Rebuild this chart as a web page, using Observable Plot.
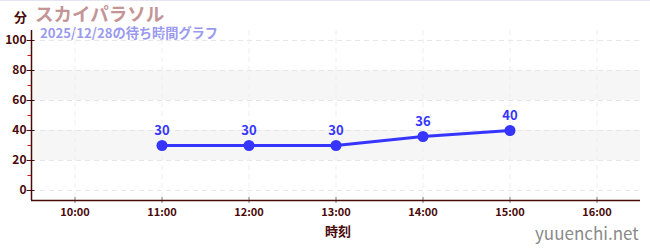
<!DOCTYPE html>
<html><head><meta charset="utf-8">
<script src="https://cdn.jsdelivr.net/npm/d3@7"></script>
<script src="https://cdn.jsdelivr.net/npm/@observablehq/plot@0.6"></script>
<style>
body{margin:0;background:#fff;font-family:"Noto Sans CJK JP","Noto Sans",sans-serif;}
#wrap{position:relative;width:650px;height:250px;overflow:hidden;}
#wrap svg{position:absolute;left:0;top:0;}
#topline{position:absolute;left:0;top:0;width:650px;height:1px;background:#e4e4f4;}
.t{position:absolute;white-space:nowrap;font-weight:bold;line-height:1;}
</style></head><body>
<div id="wrap">
<div id="topline"></div>
<div class="t" style="left:14px;top:10px;font-size:13px;color:#4a0a0a;">分</div>
<div class="t" style="left:35px;top:4px;font-size:18.5px;color:#c49595;">スカイパラソル</div>
<div class="t" style="left:40px;top:26px;font-size:13.2px;color:#9a9af0;">2025/12/28の待ち時間グラフ</div>
<div class="t" style="left:325px;top:224px;font-size:13px;color:#4a0a0a;">時刻</div>
<div class="t" style="left:535px;top:224px;font-size:17px;font-weight:normal;color:#8a8a8a;">yuuenchi.net</div>
</div>
<script>
const hours = [11, 12, 13, 14, 15];
const waits = [30, 30, 30, 36, 40];
const xTicks = [10, 11, 12, 13, 14, 15, 16];
const xTickLabels = ["10:00", "11:00", "12:00", "13:00", "14:00", "15:00", "16:00"];
const yTicks = [0, 20, 40, 60, 80, 100];
const yMinorTicks = [10, 30, 50, 70, 90];
const bands = [[20, 40], [60, 80]];

const data = hours.map((h, i) => ({h, w: waits[i]}));
const axisColor = "#4a0a0a";
const blue = "#3535ff";
const X0 = 9.5, X1 = 16.5, Y0 = -6.67, Y1 = 106.67;

const chart = Plot.plot({
  width: 650, height: 250,
  marginLeft: 31, marginRight: 10, marginTop: 30, marginBottom: 50,
  style: {fontFamily: '"Noto Sans CJK JP","Noto Sans",sans-serif', background: "transparent"},
  x: {type: "linear", domain: [X0, X1]},
  y: {type: "linear", domain: [Y0, Y1]},
  marks: [
    Plot.rect(bands, {x1: () => X0, x2: () => X1, y1: d => d[0], y2: d => d[1], fill: "#f6f6f6"}),
    Plot.ruleY(yTicks, {stroke: "#e6e6e6", strokeDasharray: "5,4"}),
    Plot.ruleX(xTicks, {stroke: "#eeeeee", strokeDasharray: "5,4"}),
    Plot.axisX(xTicks, {tickSize: 0, tickPadding: 8, label: null, tickFormat: d => xTickLabels[xTicks.indexOf(d)], fill: axisColor, fontSize: 11, fontWeight: "bold"}),
    Plot.axisY(yTicks, {tickSize: 0, tickPadding: 5, label: null, fill: axisColor, fontSize: 12, fontWeight: "bold"}),
    Plot.ruleY(yMinorTicks, {x1: () => X0 - 0.04, x2: () => X0, stroke: "#e01010"}),
    Plot.ruleY(yTicks, {x1: () => X0 - 0.05, x2: () => X0 + 0.04, stroke: axisColor}),
    Plot.ruleX(xTicks, {y1: () => Y0 - 2, y2: () => Y0 + 2, stroke: "#777"}),
    Plot.ruleY([Y0], {stroke: axisColor, strokeWidth: 1.5}),
    Plot.ruleX([X0], {stroke: axisColor, strokeWidth: 1.5}),
    Plot.line(data, {x: "h", y: "w", stroke: blue, strokeWidth: 3}),
    Plot.dot(data, {x: "h", y: "w", r: 5.5, fill: blue}),
    Plot.text(data, {x: "h", y: "w", text: d => String(d.w), dy: -15, fill: blue, fontSize: 13, fontWeight: "bold"})
  ]
});
document.getElementById("wrap").appendChild(chart);
</script>
</body></html>
